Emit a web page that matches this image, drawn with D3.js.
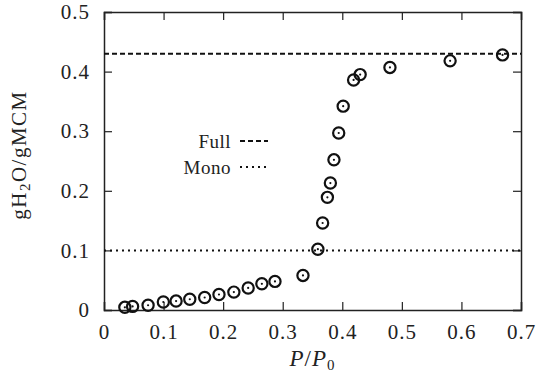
<!DOCTYPE html>
<html>
<head>
<meta charset="utf-8">
<script src="https://cdn.jsdelivr.net/npm/d3@7"></script>
<style>
  body { margin: 0; background: #fff; }
  svg text { font-family: "Liberation Serif", serif !important; fill: #222; }
</style>
</head>
<body>
<div id="chart"></div>
<script>
// P/P0 values and water uptake (g H2O / g MCM)
const pressure = [0.035, 0.048, 0.074, 0.0996, 0.121, 0.144, 0.169, 0.193, 0.218, 0.242, 0.265, 0.287,
  0.334, 0.359, 0.367, 0.375, 0.380, 0.386, 0.394, 0.4015, 0.419, 0.430, 0.480, 0.581, 0.669];
const uptake = [0.0045, 0.006, 0.008, 0.0134, 0.015, 0.018, 0.021, 0.026, 0.030, 0.037, 0.044, 0.048,
  0.058, 0.102, 0.146, 0.189, 0.213, 0.252, 0.297, 0.342, 0.386, 0.395, 0.407, 0.418, 0.428];

const refNames = ['Full', 'Mono'];
const refValues = [0.43, 0.1];
const refDash = ['5 3', '2 4'];

const xTicks = [0, 0.1, 0.2, 0.3, 0.4, 0.5, 0.6, 0.7];
const yTicks = [0, 0.1, 0.2, 0.3, 0.4, 0.5];

const width = 541, height = 388;
const margin = { top: 12, right: 20, bottom: 78, left: 104 };
const w = width - margin.left - margin.right;
const h = height - margin.top - margin.bottom;

const x = d3.scaleLinear().domain([0, 0.7]).range([0, w]);
const y = d3.scaleLinear().domain([0, 0.5]).range([h, 0]);
const fmt = (d) => (d === 0 ? '0' : d3.format('.1f')(d));

const svg = d3.select('#chart').append('svg')
  .attr('width', width)
  .attr('height', height);

const g = svg.append('g').attr('transform', `translate(${margin.left},${margin.top})`);

// Axes with inward ticks on all four sides
const tick = 8;
g.append('g').attr('transform', `translate(0,${h})`)
  .call(d3.axisBottom(x).tickValues(xTicks).tickSize(-tick).tickPadding(14).tickFormat(fmt));
g.append('g')
  .call(d3.axisTop(x).tickValues(xTicks).tickSize(-tick).tickFormat(''));
g.append('g')
  .call(d3.axisLeft(y).tickValues(yTicks).tickSize(-tick).tickPadding(14).tickFormat(fmt));
g.append('g').attr('transform', `translate(${w},0)`)
  .call(d3.axisRight(y).tickValues(yTicks).tickSize(-tick).tickFormat(''));

g.selectAll('.domain').attr('stroke', '#222').attr('stroke-width', 1.5);
g.selectAll('.tick line').attr('stroke', '#222').attr('stroke-width', 1.2);
g.selectAll('.tick text').style('font-size', '21px').style('letter-spacing', '1px').style('fill', '#222');

// Reference lines
g.selectAll('.ref').data(refValues).enter().append('line')
  .attr('x1', 0).attr('x2', w)
  .attr('y1', (d) => y(d)).attr('y2', (d) => y(d))
  .attr('stroke', '#111').attr('stroke-width', 2)
  .attr('stroke-dasharray', (d, i) => refDash[i]);

// Legend
const leg = g.append('g').attr('transform', 'translate(127,129)');
refNames.forEach((name, i) => {
  const row = leg.append('g').attr('transform', `translate(0,${i * 26})`);
  row.append('text').attr('x', 0).attr('y', 0).attr('dy', '0.35em')
    .attr('text-anchor', 'end').style('font-size', '19px').style('letter-spacing', '0.5px').text(name);
  row.append('line').attr('x1', 9).attr('x2', 37).attr('y1', 0).attr('y2', 0)
    .attr('stroke', '#111').attr('stroke-width', 2)
    .attr('stroke-dasharray', refDash[i]);
});

// Data points: circle with centre dot
const pts = g.selectAll('.pt').data(pressure).enter().append('g')
  .attr('transform', (d, i) => `translate(${x(d)},${y(uptake[i])})`);
pts.append('circle').attr('r', 5.6).attr('fill', 'none').attr('stroke', '#111').attr('stroke-width', 2.2);
pts.append('circle').attr('r', 1.1).attr('fill', '#111');

// Axis labels
const xl = svg.append('text')
  .attr('x', margin.left + w / 2).attr('y', 366)
  .attr('text-anchor', 'middle').style('font-size', '23px').style('letter-spacing', '1px');
xl.append('tspan').style('font-style', 'italic').text('P');
xl.append('tspan').text('/');
xl.append('tspan').style('font-style', 'italic').text('P');
xl.append('tspan').style('font-size', '15px').attr('dy', 4).text('0');

const yl = svg.append('text')
  .attr('transform', `translate(26,${margin.top + 143}) rotate(-90)`)
  .attr('text-anchor', 'middle').style('font-size', '21px').style('letter-spacing', '1.5px');
yl.append('tspan').text('gH');
yl.append('tspan').style('font-size', '15px').attr('dy', 4).text('2');
yl.append('tspan').attr('dy', -4).text('O/gMCM');
</script>
</body>
</html>
